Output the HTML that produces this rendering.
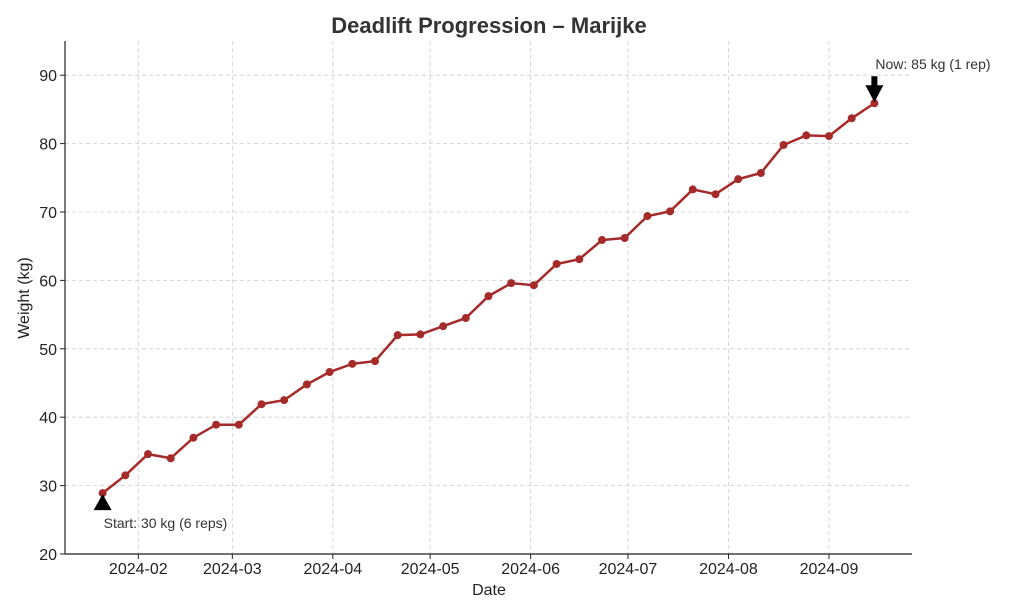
<!DOCTYPE html>
<html><head><meta charset="utf-8"><style>
html,body{margin:0;padding:0;background:#fff;}
svg{display:block;font-family:"Liberation Sans","DejaVu Sans",sans-serif;}
</style></head><body>
<svg id="chart" width="1024" height="614">
<text x="489" y="33" text-anchor="middle" font-size="22" font-weight="bold" fill="#333">Deadlift Progression – Marijke</text>
<g id="grid"></g>
<g id="axes"></g>
<g id="series"></g>
<text x="489" y="595" text-anchor="middle" font-size="16" fill="#222">Date</text>
<text transform="translate(29,298) rotate(-90)" text-anchor="middle" font-size="16" fill="#222">Weight (kg)</text>
<g id="ann"></g>
</svg>
<script>
const weights=[28.9,31.5,34.6,34.0,37.0,38.9,38.9,41.9,42.5,44.8,46.6,47.8,48.2,52.0,52.1,53.3,54.5,57.7,59.6,59.3,62.4,63.1,65.9,66.2,69.4,70.1,73.3,72.6,74.8,75.7,79.8,81.2,81.1,83.7,85.9];
const startDate="2024-01-21";
const xTickLabels=["2024-02","2024-03","2024-04","2024-05","2024-06","2024-07","2024-08","2024-09"];
const yTicks=[20,30,40,50,60,70,80,90];
const NS="http://www.w3.org/2000/svg";
const L=65,R=912,T=41,B=554;
const day=864e5;
const d0=new Date(startDate+"T00:00:00Z").getTime();
const dates=weights.map((w,i)=>d0+i*7*day);
const xMin=d0-11.6*day, xMax=dates[dates.length-1]+11.6*day;
const x=t=>L+(t-xMin)/(xMax-xMin)*(R-L);
const y=v=>B-(v-20)/(95-20)*(B-T)*1;
function mk(tag,attrs,parent){const e=document.createElementNS(NS,tag);for(const k in attrs)e.setAttribute(k,attrs[k]);parent.appendChild(e);return e;}
const grid=document.getElementById('grid'),axes=document.getElementById('axes'),ser=document.getElementById('series'),ann=document.getElementById('ann');
yTicks.forEach(v=>{
 const yy=y(v);
 const g=mk('line',{x1:L,x2:R,y1:yy,y2:yy,stroke:'#ccc','stroke-dasharray':'4,3','stroke-width':0.8},grid);
 
 
 const tk=mk('line',{x1:L-5,x2:L,y1:yy,y2:yy,stroke:'#222'},axes);
 
 
 const t=mk('text',{x:L-8,y:yy+6,'text-anchor':'end','font-size':16,fill:'#222'},axes);
 t.textContent=v;
 
 
});
xTickLabels.forEach(s=>{
 const xx=x(new Date(s+"-01T00:00:00Z").getTime());
 const g=mk('line',{x1:xx,x2:xx,y1:T,y2:B,stroke:'#ccc','stroke-dasharray':'4,3','stroke-width':0.8},grid);
 
 
 const tk=mk('line',{x1:xx,x2:xx,y1:B,y2:B+5,stroke:'#222'},axes);
 
 
 const t=mk('text',{x:xx,y:B+20,'text-anchor':'middle','font-size':16,fill:'#222'},axes);
 t.textContent=s;
 
 
});
const sp1=mk('line',{x1:L,x2:L,y1:T,y2:B,stroke:'#222','stroke-width':1.2},axes);


const sp2=mk('line',{x1:L,x2:R,y1:B,y2:B,stroke:'#222','stroke-width':1.2},axes);


const pts=weights.map((w,i)=>x(dates[i])+','+y(w)).join(' ');
const pl=mk('polyline',{points:pts,fill:'none',stroke:'#a52a2a','stroke-width':2.5},ser);


weights.forEach((w,i)=>{
 const c=mk('circle',{cx:x(dates[i]),cy:y(w),r:4,fill:'#a52a2a'},ser);
 
 
});
// annotations
const sx=x(dates[0]),sy=y(weights[0]);
const a1=mk('polygon',{points:`${sx},${sy+1} ${sx-9},${sy+17} ${sx-3},${sy+17} ${sx-3},${sy+17} ${sx+3},${sy+17} ${sx+9},${sy+17}`,fill:'#000'},ann);


const t1=mk('text',{x:sx+1,y:sy+35,'font-size':14,fill:'#333'},ann);
t1.textContent="Start: 30 kg (6 reps)";


const n=weights.length-1,ex=x(dates[n]),ey=y(weights[n]);
const a2=mk('polygon',{points:`${ex},${ey-1} ${ex-9},${ey-18} ${ex-3},${ey-18} ${ex-3},${ey-27} ${ex+3},${ey-27} ${ex+3},${ey-18} ${ex+9},${ey-18}`,fill:'#000'},ann);


const t2=mk('text',{x:ex+1,y:ey-34,'font-size':14,fill:'#333'},ann);
t2.textContent="Now: 85 kg (1 rep)";


</script>
</body></html>
